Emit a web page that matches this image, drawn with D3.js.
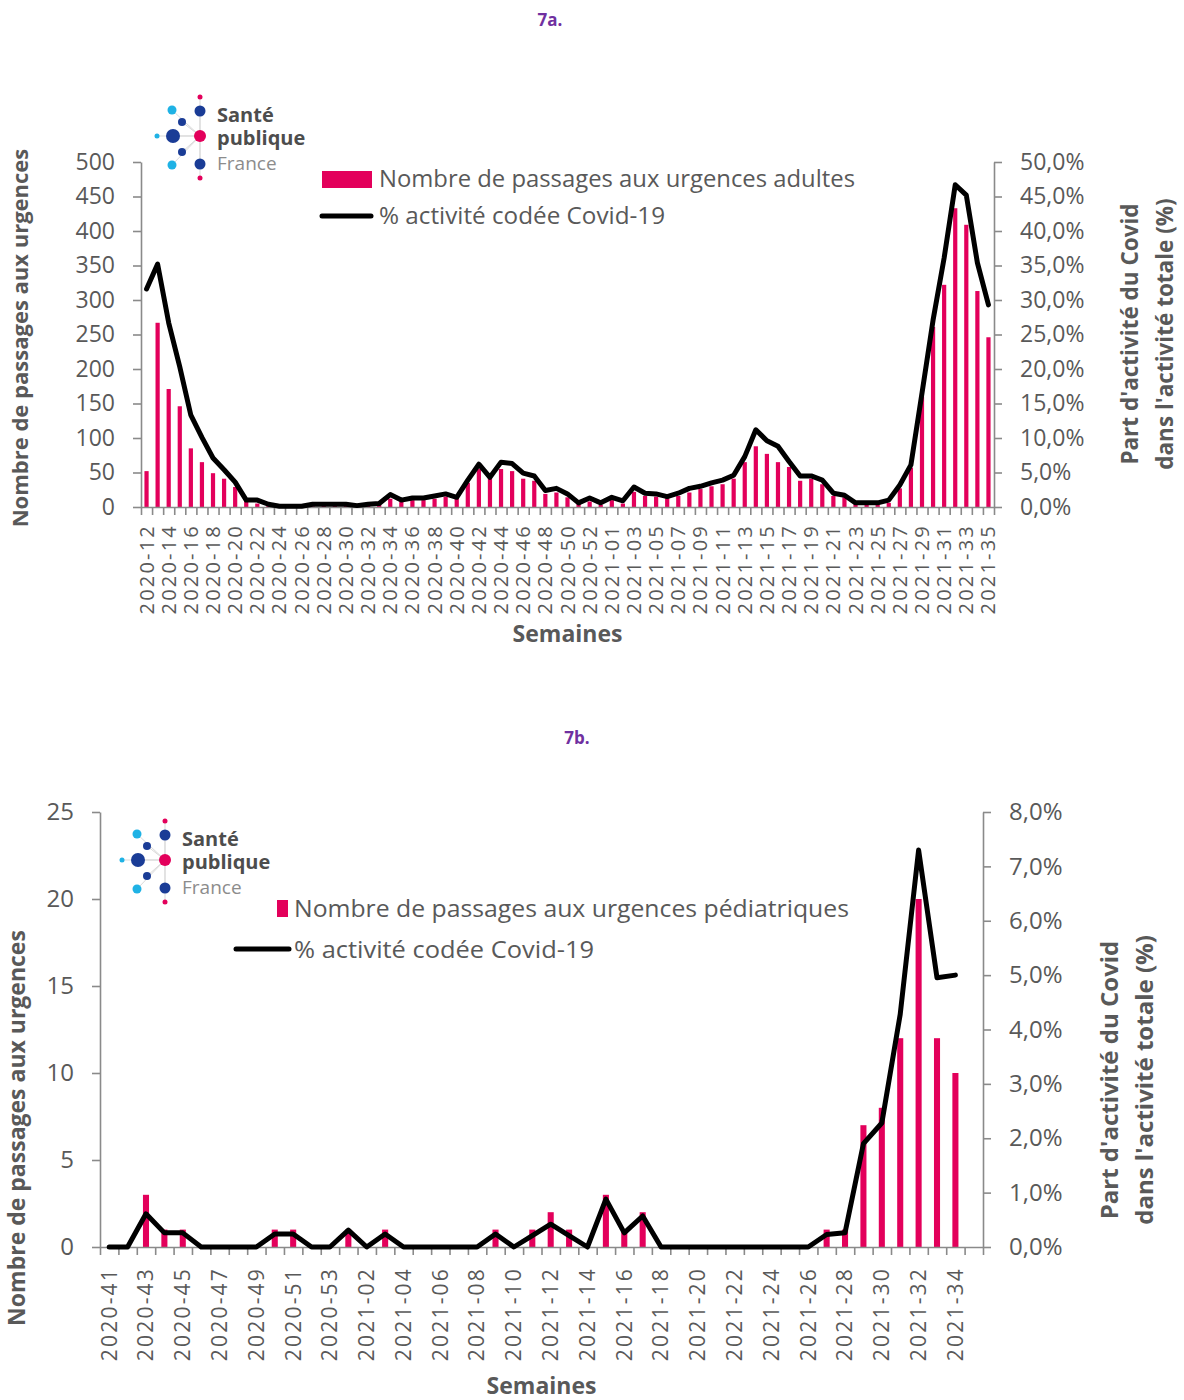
<!DOCTYPE html>
<html>
<head>
<meta charset="utf-8">
<script src="https://cdn.jsdelivr.net/npm/d3@7"></script>
<style>
  body { margin: 0; background: #fff; }
  text { font-family: 'Open Sans', sans-serif; }
</style>
</head>
<body>
<svg id="chart" width="1184" height="1400"></svg>
<script>
// ---- 7a : adultes ----
var weeksA = ["2020-12","2020-13","2020-14","2020-15","2020-16","2020-17","2020-18","2020-19","2020-20","2020-21",
  "2020-22","2020-23","2020-24","2020-25","2020-26","2020-27","2020-28","2020-29","2020-30","2020-31",
  "2020-32","2020-33","2020-34","2020-35","2020-36","2020-37","2020-38","2020-39","2020-40","2020-41",
  "2020-42","2020-43","2020-44","2020-45","2020-46","2020-47","2020-48","2020-49","2020-50","2020-51",
  "2020-52","2020-53","2021-01","2021-02","2021-03","2021-04","2021-05","2021-06","2021-07","2021-08",
  "2021-09","2021-10","2021-11","2021-12","2021-13","2021-14","2021-15","2021-16","2021-17","2021-18",
  "2021-19","2021-20","2021-21","2021-22","2021-23","2021-24","2021-25","2021-26","2021-27","2021-28",
  "2021-29","2021-30","2021-31","2021-32","2021-33","2021-34","2021-35"];
var passagesA = [52,267,171,146,85,65,49,41,29,10,
  5,3,1,1,0,1,2,2,2,1,
  2,3,12,8,10,10,12,15,13,35,
  55,42,55,52,41,38,19,21,14,6,
  8,3,10,5,22,16,15,13,16,21,
  26,30,33,41,65,88,77,65,58,38,
  41,33,16,14,4,3,3,6,27,57,
  160,261,322,433,409,313,246];
var covidA = [31.6,35.2,26.7,20.3,13.3,10.1,7.1,5.4,3.6,1.0,
  1.0,0.4,0.1,0.1,0.1,0.4,0.4,0.4,0.4,0.2,
  0.4,0.5,1.8,1.0,1.3,1.3,1.6,1.9,1.4,3.9,
  6.2,4.3,6.5,6.3,4.9,4.5,2.4,2.7,1.9,0.6,
  1.3,0.6,1.4,0.9,2.9,2.0,1.9,1.5,2.0,2.7,
  3.0,3.5,3.9,4.6,7.3,11.2,9.6,8.8,6.6,4.5,
  4.5,3.9,2.0,1.7,0.6,0.6,0.6,1.0,3.2,6.1,
  16.5,27.1,36.1,46.7,45.2,35.4,29.3];
var leftTicksA = [0,50,100,150,200,250,300,350,400,450,500];
var rightTicksA = [0,5,10,15,20,25,30,35,40,45,50];

// ---- 7b : pédiatriques ----
var weeksB = ["2020-41","2020-42","2020-43","2020-44","2020-45","2020-46","2020-47","2020-48","2020-49","2020-50",
  "2020-51","2020-52","2020-53","2021-01","2021-02","2021-03","2021-04","2021-05","2021-06","2021-07",
  "2021-08","2021-09","2021-10","2021-11","2021-12","2021-13","2021-14","2021-15","2021-16","2021-17",
  "2021-18","2021-19","2021-20","2021-21","2021-22","2021-23","2021-24","2021-25","2021-26","2021-27",
  "2021-28","2021-29","2021-30","2021-31","2021-32","2021-33","2021-34","2021-35"];
var passagesB = [0,0,3,1,1,0,0,0,0,1,
  1,0,0,1,0,1,0,0,0,0,
  0,1,0,1,2,1,0,3,1,2,
  0,0,0,0,0,0,0,0,0,1,
  1,7,8,12,20,12,10,null];
var covidB = [0,0,0.61,0.26,0.26,0,0,0,0,0.24,
  0.24,0,0,0.31,0,0.24,0,0,0,0,
  0,0.24,0,0.21,0.42,0.21,0,0.88,0.26,0.57,
  0,0,0,0,0,0,0,0,0,0.23,
  0.26,1.9,2.28,4.28,7.3,4.95,5.0,null];
var leftTicksB = [0,5,10,15,20,25];
var rightTicksB = [0,1,2,3,4,5,6,7,8];

var pink = "#E3005B";
var grey = "#595959";
var axisGrey = "#8a8a8a";

var svg = d3.select("#chart");

function drawLogo(cx, cy) {
    var g = svg.append("g").attr("transform", "translate(" + cx + "," + cy + ")");
    var dots = [
        [0, -39, 2.5, pink], [-28, -26, 4.5, "#1fb2e5"], [0, -25, 5.5, "#1a3c96"],
        [-18, -14, 4, "#1a3c96"], [-43, 0, 2.5, "#1fb2e5"], [-27, 0, 7, "#1a3c96"],
        [0, 0, 6, pink], [-18, 16, 4, "#1a3c96"], [-28, 29, 4.5, "#1fb2e5"],
        [0, 28, 5.5, "#1a3c96"], [0, 42, 2.5, pink]
    ];
    g.selectAll("line").data(dots).enter().append("line")
        .attr("x1", 0).attr("y1", 0)
        .attr("x2", function (d) { return d[0]; })
        .attr("y2", function (d) { return d[1]; })
        .style("stroke", "#d9d9d9").style("stroke-width", 1);
    g.selectAll("circle").data(dots).enter().append("circle")
        .attr("cx", function (d) { return d[0]; })
        .attr("cy", function (d) { return d[1]; })
        .attr("r", function (d) { return d[2]; })
        .style("fill", function (d) { return d[3]; });
    g.append("text").attr("x", 17).attr("y", -14).text("Santé")
        .style("font-size", "20px").style("font-weight", "bold").style("fill", "#4d4d4d");
    g.append("text").attr("x", 17).attr("y", 9).text("publique")
        .style("font-size", "20px").style("font-weight", "bold").style("fill", "#4d4d4d");
    g.append("text").attr("x", 17).attr("y", 34).text("France")
        .style("font-size", "19px").style("fill", "#8c8c8c");
}

function drawChart(o) {
    var n = o.weeks.length;
    var x = d3.scaleBand().domain(o.weeks).range([o.x0, o.x1]);
    var xi = d3.scaleLinear().domain([0, n]).range([o.x0, o.x1]);
    var y = d3.scaleLinear().domain([0, o.yMax]).range([o.y1, o.y0]);
    var y2 = d3.scaleLinear().domain([0, o.pMax]).range([o.y1, o.y0]);
    var bw = x.bandwidth() * o.barFrac;

    // title
    svg.append("text").attr("x", o.titleX).attr("y", o.titleY).text(o.title)
        .style("font-size", "17px").style("font-weight", "bold").style("fill", "#7030A0")
        .style("text-anchor", "middle");

    // bars
    svg.append("g").selectAll("rect")
        .data(o.passages)
        .enter()
        .append("rect")
        .filter(function (d) { return d != null; })
        .attr("x", function (d, i) { return x(o.weeks[i]) + x.bandwidth() / 2 - bw / 2; })
        .attr("y", function (d) { return y(d); })
        .attr("width", bw)
        .attr("height", function (d) { return o.y1 - y(d); })
        .style("fill", pink);

    // axes
    var gL = svg.append("g").attr("transform", "translate(" + o.x0 + ",0)")
        .call(d3.axisLeft(y).tickValues(o.leftTicks).tickSize(8).tickSizeOuter(0).tickPadding(18));
    var gR = svg.append("g").attr("transform", "translate(" + o.x1 + ",0)")
        .call(d3.axisRight(y2).tickValues(o.rightTicks).tickSize(8).tickSizeOuter(0).tickPadding(18)
            .tickFormat(function (d) { return d3.format(".1f")(d).replace(".", ",") + "%"; }));
    var gT = svg.append("g").attr("transform", "translate(0," + o.y1 + ")")
        .call(d3.axisBottom(xi).tickValues(d3.range(n + 1)).tickSize(8).tickSizeOuter(0).tickFormat(""));
    var gX = svg.append("g").attr("transform", "translate(0," + o.y1 + ")")
        .call(d3.axisBottom(x).tickValues(o.weeks.filter(function (d, i) { return i % 2 == 0; })).tickSize(0));
    gX.select(".domain").remove();
    gX.selectAll("text")
        .attr("transform", "rotate(-90)")
        .attr("x", -o.xLabelGap)
        .attr("y", 0)
        .attr("dy", "0.35em")
        .style("text-anchor", "end")
        .style("font-size", o.xFont + "px")
        .style("letter-spacing", o.xSpacing + "px")
        .style("fill", grey);

    [gL, gR, gT].forEach(function (g) {
        g.selectAll(".domain").style("stroke", axisGrey).style("stroke-width", 1.6);
        g.selectAll(".tick line").style("stroke", axisGrey).style("stroke-width", 1.6);
        g.selectAll("text").style("font-size", o.yFont + "px").style("fill", grey);
    });

    // line
    var line = d3.line()
        .defined(function (d) { return d != null; })
        .x(function (d, i) { return x(o.weeks[i]) + x.bandwidth() / 2; })
        .y(function (d) { return y2(d); });
    svg.append("path").datum(o.covid)
        .attr("d", line)
        .style("fill", "none").style("stroke", "#000").style("stroke-width", 5)
        .style("stroke-linejoin", "round").style("stroke-linecap", "round");

    // axis titles
    svg.append("text").attr("x", (o.x0 + o.x1) / 2).attr("y", o.semY).text("Semaines")
        .style("text-anchor", "middle").style("font-size", "23px").style("font-weight", "bold").style("fill", grey);
    svg.append("text").attr("transform", "translate(" + o.lTitleX + "," + o.lTitleY + ") rotate(-90)")
        .text("Nombre de passages aux urgences")
        .style("text-anchor", "middle").style("font-size", o.tFont + "px").style("font-weight", "bold").style("fill", grey);
    svg.append("text").attr("transform", "translate(" + o.rTitleX + "," + o.rTitleY + ") rotate(-90)")
        .text("Part d'activité du Covid")
        .style("text-anchor", "middle").style("font-size", o.rFont + "px").style("font-weight", "bold").style("fill", grey);
    svg.append("text").attr("transform", "translate(" + (o.rTitleX + 35) + "," + o.rTitleY + ") rotate(-90)")
        .text("dans l'activité totale (%)")
        .style("text-anchor", "middle").style("font-size", o.rFont + "px").style("font-weight", "bold").style("fill", grey);

    // legend
    var lg = svg.append("g");
    lg.append("rect").attr("x", o.leg.rx).attr("y", o.leg.ry).attr("width", o.leg.rw).attr("height", o.leg.rh)
        .style("fill", pink);
    lg.append("text").attr("x", o.leg.tx).attr("y", o.leg.t1y).text(o.legendText)
        .attr("textLength", o.leg.len1).attr("lengthAdjust", "spacingAndGlyphs")
        .style("font-size", o.leg.font + "px").style("fill", grey);
    lg.append("line").attr("x1", o.leg.lx1).attr("x2", o.leg.lx2).attr("y1", o.leg.ly).attr("y2", o.leg.ly)
        .style("stroke", "#000").style("stroke-width", 5).style("stroke-linecap", "round");
    lg.append("text").attr("x", o.leg.tx).attr("y", o.leg.t2y).text("% activité codée Covid-19")
        .attr("textLength", o.leg.len2).attr("lengthAdjust", "spacingAndGlyphs")
        .style("font-size", o.leg.font + "px").style("fill", grey);
}

drawChart({
    title: "7a.", titleX: 550, titleY: 26,
    weeks: weeksA, passages: passagesA, covid: covidA,
    leftTicks: leftTicksA, rightTicks: rightTicksA, yMax: 500, pMax: 50,
    x0: 141, x1: 994, y0: 162, y1: 507, barFrac: 0.38,
    xLabelGap: 17, xFont: 20, xSpacing: 2.2, yFont: 23, tFont: 22, rFont: 22.5,
    semY: 642, lTitleX: 28, lTitleY: 338, rTitleX: 1138, rTitleY: 334,
    legendText: "Nombre de passages aux urgences adultes",
    leg: { rx: 322, ry: 171, rw: 50, rh: 17, tx: 379, t1y: 187, lx1: 322, lx2: 371, ly: 216, t2y: 224,
           font: 23, len1: 476, len2: 286 }
});
drawLogo(200, 136);

drawChart({
    title: "7b.", titleX: 577, titleY: 744,
    weeks: weeksB, passages: passagesB, covid: covidB,
    leftTicks: leftTicksB, rightTicks: rightTicksB, yMax: 25, pMax: 8,
    x0: 100, x1: 983, y0: 812, y1: 1247, barFrac: 0.33,
    xLabelGap: 20, xFont: 21, xSpacing: 2.2, yFont: 24, tFont: 23, rFont: 24,
    semY: 1394, lTitleX: 25, lTitleY: 1128, rTitleX: 1118, rTitleY: 1080,
    legendText: "Nombre de passages aux urgences pédiatriques",
    leg: { rx: 277, ry: 900, rw: 11, rh: 17, tx: 294, t1y: 917, lx1: 236, lx2: 289, ly: 949, t2y: 958,
           font: 24, len1: 555, len2: 300 }
});
drawLogo(165, 860);
</script>
</body>
</html>
